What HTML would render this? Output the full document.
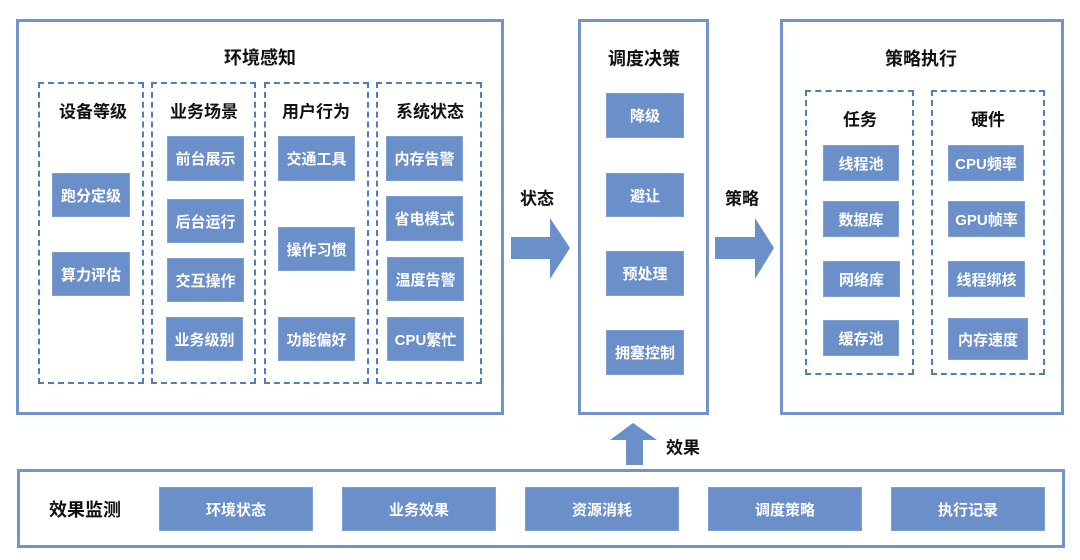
<!DOCTYPE html>
<html><head><meta charset="utf-8"><style>
body{margin:0;width:1080px;height:560px;background:#fff;position:relative;overflow:hidden;font-family:"Liberation Sans","Noto Sans CJK SC",sans-serif;}
div{position:absolute;box-sizing:border-box;}
.frame{border:3px solid #7393cb;background:#fff;}
.dash{border:2px dashed #4f7fb5;}
.b{background:#6a8fc9;border:1px solid #7fa0d4;color:#fff;font-weight:bold;font-size:15px;display:flex;align-items:center;justify-content:center;white-space:nowrap;}
.t{font-weight:bold;color:#111;font-size:17px;text-align:center;white-space:nowrap;transform:translate(-50%,-50%);}
</style></head><body>
<!-- left frame -->
<div class="frame" style="left:16px;top:19px;width:488px;height:396px"></div>
<div class="t" style="left:260px;top:57px;font-size:18px">环境感知</div>
<div class="dash" style="left:38px;top:82px;width:106px;height:302px"></div>
<div class="dash" style="left:151px;top:82px;width:105px;height:302px"></div>
<div class="dash" style="left:264px;top:82px;width:105px;height:302px"></div>
<div class="dash" style="left:376px;top:82px;width:106px;height:302px"></div>
<div class="t" style="left:93px;top:110px">设备等级</div>
<div class="t" style="left:204px;top:110px">业务场景</div>
<div class="t" style="left:316px;top:110px">用户行为</div>
<div class="t" style="left:430px;top:110px">系统状态</div>
<div class="b" style="left:52px;top:173px;width:78px;height:44px">跑分定级</div>
<div class="b" style="left:52px;top:252px;width:78px;height:44px">算力评估</div>
<div class="b" style="left:167px;top:136px;width:77px;height:45px">前台展示</div>
<div class="b" style="left:167px;top:199px;width:77px;height:44px">后台运行</div>
<div class="b" style="left:167px;top:258px;width:77px;height:44px">交互操作</div>
<div class="b" style="left:166px;top:317px;width:77px;height:44px">业务级别</div>
<div class="b" style="left:278px;top:136px;width:77px;height:45px">交通工具</div>
<div class="b" style="left:278px;top:227px;width:77px;height:44px">操作习惯</div>
<div class="b" style="left:278px;top:317px;width:77px;height:44px">功能偏好</div>
<div class="b" style="left:386px;top:136px;width:77px;height:45px">内存告警</div>
<div class="b" style="left:386px;top:196px;width:77px;height:45px">省电模式</div>
<div class="b" style="left:387px;top:257px;width:77px;height:44px">温度告警</div>
<div class="b" style="left:387px;top:317px;width:77px;height:44px">CPU繁忙</div>
<!-- arrows -->
<div class="t" style="left:537px;top:197px">状态</div>
<svg style="position:absolute;left:0;top:0" width="1080" height="560">
<polygon fill="#6a8fc9" points="511,237 550,237 550,218 570,248 550,279 550,259 511,259"/>
<polygon fill="#6a8fc9" points="715,237 755,237 755,218 774,248 755,279 755,259 715,259"/>
<polygon fill="#6a8fc9" points="626,465 626,440 610,440 633,423 657,440 643,440 643,465"/>
</svg>
<div class="t" style="left:742px;top:197px">策略</div>
<div class="t" style="left:683px;top:446px">效果</div>
<!-- middle -->
<div class="frame" style="left:578px;top:19px;width:131px;height:396px"></div>
<div class="t" style="left:644px;top:58px;font-size:18px">调度决策</div>
<div class="b" style="left:606px;top:93px;width:78px;height:45px">降级</div>
<div class="b" style="left:606px;top:173px;width:78px;height:44px">避让</div>
<div class="b" style="left:606px;top:251px;width:78px;height:45px">预处理</div>
<div class="b" style="left:606px;top:330px;width:78px;height:45px">拥塞控制</div>
<!-- right -->
<div class="frame" style="left:780px;top:19px;width:284px;height:396px"></div>
<div class="t" style="left:921px;top:58px;font-size:18px">策略执行</div>
<div class="dash" style="left:805px;top:90px;width:109px;height:285px"></div>
<div class="dash" style="left:931px;top:90px;width:114px;height:285px"></div>
<div class="t" style="left:860px;top:118px">任务</div>
<div class="t" style="left:988px;top:118px">硬件</div>
<div class="b" style="left:823px;top:145px;width:76px;height:36px">线程池</div>
<div class="b" style="left:823px;top:201px;width:76px;height:36px">数据库</div>
<div class="b" style="left:823px;top:261px;width:77px;height:36px">网络库</div>
<div class="b" style="left:823px;top:320px;width:76px;height:36px">缓存池</div>
<div class="b" style="left:948px;top:145px;width:76px;height:36px">CPU频率</div>
<div class="b" style="left:948px;top:201px;width:77px;height:36px">GPU帧率</div>
<div class="b" style="left:948px;top:261px;width:77px;height:36px">线程绑核</div>
<div class="b" style="left:948px;top:318px;width:80px;height:42px">内存速度</div>
<!-- bottom -->
<div class="frame" style="left:17px;top:469px;width:1048px;height:79px"></div>
<div class="t" style="left:85px;top:509px;font-size:18px">效果监测</div>
<div class="b" style="left:159px;top:487px;width:154px;height:44px">环境状态</div>
<div class="b" style="left:342px;top:487px;width:154px;height:44px">业务效果</div>
<div class="b" style="left:525px;top:487px;width:154px;height:44px">资源消耗</div>
<div class="b" style="left:708px;top:487px;width:154px;height:44px">调度策略</div>
<div class="b" style="left:891px;top:487px;width:154px;height:44px">执行记录</div>
</body></html>
